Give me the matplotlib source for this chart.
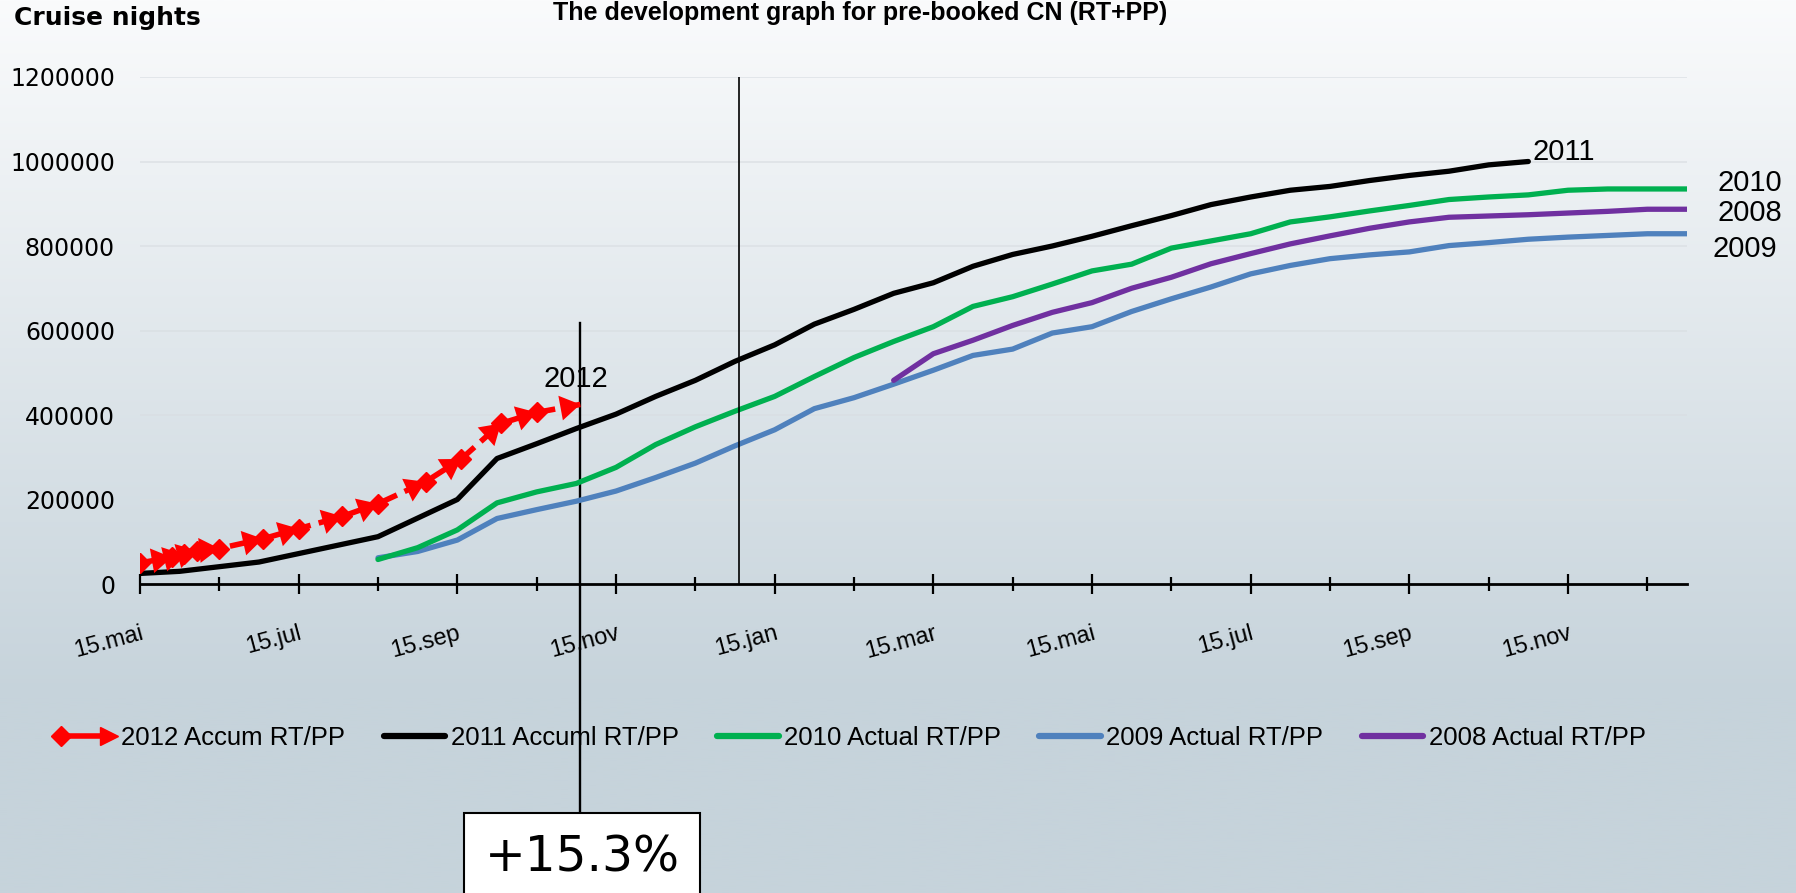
import numpy as np
import matplotlib
matplotlib.use("Agg")
import matplotlib.pyplot as plt
from matplotlib.lines import Line2D
from matplotlib.legend_handler import HandlerBase

# x = months after 15.mai (start of booking season), y = cruise nights
x_2012 = [0, 0.4, 0.55, 0.72, 1.0, 1.55, 2.0, 2.55, 3.0, 3.6, 4.05, 4.55, 5.0, 5.55]
y_2012 = [50000, 63000, 70000, 79000, 84000, 107000, 131000, 160000, 190000,
          242000, 296000, 380000, 406000, 425000]

x_2011 = [0, 0.5, 1.5, 2.5, 3, 4, 4.5, 5, 5.5, 6, 6.5, 7, 7.5, 8, 8.5, 9, 9.5,
          10, 10.5, 11, 11.5, 12, 12.5, 13, 13.5, 14, 14.5, 15, 15.5, 16, 16.5,
          17, 17.5]
y_2011 = [25000, 30000, 52000, 92000, 112000, 200000, 297000, 332000, 368000,
          402000, 444000, 482000, 527000, 566000, 615000, 650000, 688000, 713000,
          752000, 780000, 800000, 823000, 848000, 872000, 898000, 916000, 932000,
          941000, 955000, 967000, 977000, 992000, 1000000]

x_full = [3, 3.5, 4, 4.5, 5, 5.5, 6, 6.5, 7, 7.5, 8, 8.5, 9, 9.5, 10, 10.5, 11,
          11.5, 12, 12.5, 13, 13.5, 14, 14.5, 15, 15.5, 16, 16.5, 17, 17.5, 18,
          18.5, 19, 19.5]
y_2010 = [58000, 86000, 128000, 192000, 218000, 238000, 276000, 330000, 372000,
          409000, 444000, 491000, 536000, 574000, 609000, 657000, 680000, 710000,
          741000, 757000, 795000, 812000, 829000, 857000, 869000, 883000, 896000,
          910000, 916000, 921000, 932000, 935000, 935000, 935000]
y_2009 = [62000, 77000, 104000, 155000, 176000, 196000, 220000, 252000, 286000,
          327000, 365000, 415000, 441000, 473000, 506000, 541000, 556000, 594000,
          609000, 645000, 675000, 703000, 734000, 754000, 770000, 779000, 786000,
          801000, 808000, 816000, 821000, 825000, 829000, 829000]

x_2008 = [9.5, 10, 10.5, 11, 11.5, 12, 12.5, 13, 13.5, 14, 14.5, 15, 15.5, 16,
          16.5, 17, 17.5, 18, 18.5, 19, 19.5]
y_2008 = [482000, 545000, 577000, 612000, 643000, 666000, 700000, 726000,
          758000, 782000, 805000, 824000, 842000, 857000, 868000, 871000, 874000,
          878000, 882000, 887000, 887000]

month_ticks = list(range(20))
month_labels = ["15.mai", "15.jul", "15.sep", "15.nov", "15.jan",
                "15.mar", "15.mai", "15.jul", "15.sep", "15.nov"]
today = 5.55       # last 2012 booking date
new_year = 7.55

RED = "#ff0000"
BLACK = "#000000"
GREEN = "#00b050"
BLUE = "#4f81bd"
PURPLE = "#7030a0"
CAL = ["Liberation Sans", "DejaVu Sans"]


class ArrowHandler(HandlerBase):
    # diamond at start, arrow head at end, like the excel line
    def create_artists(self, legend, orig, xd, yd, w, h, fs, trans):
        y = h / 2 - yd
        x0, x1 = -xd + 5, w - xd - 5
        ln = Line2D([x0, x1], [y, y], color=RED, lw=4, transform=trans)
        d = Line2D([x0], [y], marker="D", ms=10, color=RED, ls="", transform=trans)
        a = Line2D([x1], [y], marker=">", ms=13, color=RED, ls="", transform=trans)
        return [ln, d, a]


fig = plt.figure(figsize=(17.96, 8.93), dpi=100)

# background gradient
bg = fig.add_axes([0, 0, 1, 1], zorder=-10)
t = np.clip(np.linspace(0, 1, 400) / 0.78, 0, 1)
top = np.array([250, 251, 252]) / 255
bot = np.array([198, 211, 219]) / 255
grad = top + (bot - top) * t[:, None]
bg.imshow(grad[:, None, :], aspect="auto", extent=[0, 1, 0, 1])
bg.axis("off")

W, H = 1796, 893
ax = fig.add_axes([140 / W, 1 - 584 / H, (1687 - 140) / W, (584 - 77) / H])
ax.patch.set_alpha(0)
ax.set_xlim(0, 19.5)
ax.set_ylim(0, 1200000)

for s in ["top", "right", "left"]:
    ax.spines[s].set_visible(False)
ax.spines["bottom"].set_linewidth(2)

yt = list(range(0, 1200001, 200000))
ax.set_yticks(yt)
ax.set_yticklabels([str(v) for v in yt], fontsize=17, family="DejaVu Sans")
ax.tick_params(axis="y", length=0, pad=18)
for v in yt[1:]:
    ax.axhline(v, color="#d9dee2", lw=1.3, alpha=0.7, zorder=0)

ax.set_xticks(month_ticks[::2])
ax.set_xticks(month_ticks[1::2], minor=True)
ax.set_xticklabels(month_labels, rotation=15, ha="right", rotation_mode="anchor",
                   fontsize=17, family=CAL)
ax.tick_params(axis="x", which="major", direction="inout", length=15, width=1.6, pad=20)
ax.tick_params(axis="x", which="minor", direction="inout", length=10, width=1.6)

lw = 3.8
ax.plot(x_full, y_2009, color=BLUE, lw=lw, solid_capstyle="round")
ax.plot(x_2008, y_2008, color=PURPLE, lw=lw, solid_capstyle="round")
ax.plot(x_full, y_2010, color=GREEN, lw=lw, solid_capstyle="round")
ax.plot(x_2011, y_2011, color=BLACK, lw=lw, solid_capstyle="round")

# 2012 dashed with arrows on every segment
ax.plot(x_2012, y_2012, color=RED, lw=4, dashes=(4, 1.5), zorder=5)
ax.plot(x_2012[:-1], y_2012[:-1], ls="", marker="D", ms=10, color=RED, zorder=6)
for i in range(len(x_2012) - 1):
    ax.annotate("", xy=(x_2012[i + 1], y_2012[i + 1]), xytext=(x_2012[i], y_2012[i]),
                arrowprops=dict(arrowstyle="-|>,head_length=0.8,head_width=0.5",
                                mutation_scale=18, color=RED, lw=0,
                                shrinkA=0, shrinkB=0), zorder=6)

# vertical markers
ax.plot([new_year, new_year], [0, 1200000], color="black", lw=1.2)
ax.plot([today, today], [618000 / 1200000, (584 - 815) / 507], color="black", lw=1.7,
        transform=ax.get_xaxis_transform(), clip_on=False, zorder=1)

# year labels at line ends
ax.annotate("2012", (x_2012[-1], y_2012[-1]), xytext=(-3, 18), textcoords="offset points",
            ha="center", va="center", fontsize=21, family=CAL)
ax.annotate("2011", (x_2011[-1], y_2011[-1]), xytext=(3, 7), textcoords="offset points",
            ha="left", va="center", fontsize=21, family=CAL)
ax.annotate("2010", (x_full[-1], y_2010[-1]), xytext=(22, 4), textcoords="offset points",
            ha="left", va="center", fontsize=21, family=CAL, annotation_clip=False)
ax.annotate("2008", (x_2008[-1], y_2008[-1]), xytext=(22, -3), textcoords="offset points",
            ha="left", va="center", fontsize=21, family=CAL, annotation_clip=False)
ax.annotate("2009", (x_full[-1], y_2009[-1]), xytext=(18, -11), textcoords="offset points",
            ha="left", va="center", fontsize=21, family=CAL, annotation_clip=False)

# legend
red_proxy = Line2D([], [], color=RED)
handles = [red_proxy,
           Line2D([], [], color=BLACK, lw=4.5, solid_capstyle="round"),
           Line2D([], [], color=GREEN, lw=4.5, solid_capstyle="round"),
           Line2D([], [], color=BLUE, lw=4.5, solid_capstyle="round"),
           Line2D([], [], color=PURPLE, lw=4.5, solid_capstyle="round")]
labels = ["2012 Accum RT/PP", "2011 Accuml RT/PP", "2010 Actual RT/PP",
          "2009 Actual RT/PP", "2008 Actual RT/PP"]
fig.legend(handles, labels, handler_map={red_proxy: ArrowHandler()},
           loc="center", bbox_to_anchor=(850 / W, 1 - 738 / H), ncol=5, frameon=False,
           prop={"family": CAL, "size": 18.5}, handlelength=2.4, handletextpad=0.2,
           columnspacing=1.5)

fig.text(14 / W, 1 - 18 / H, "Cruise nights", fontsize=18, fontweight="bold",
         family="DejaVu Sans", ha="left", va="center")
fig.text(860 / W, 1 - 1 / H, "The development graph for pre-booked CN (RT+PP)",
         fontsize=18, fontweight="bold", family=CAL, ha="center", va="top")

fig.text(582 / W, 1 - 857 / H, "+15.3%", fontsize=35, family="DejaVu Sans",
         ha="center", va="center", zorder=5,
         bbox=dict(boxstyle="square,pad=0.42", fc="white", ec="black", lw=1.5))

fig.savefig("out.png", dpi=100)
